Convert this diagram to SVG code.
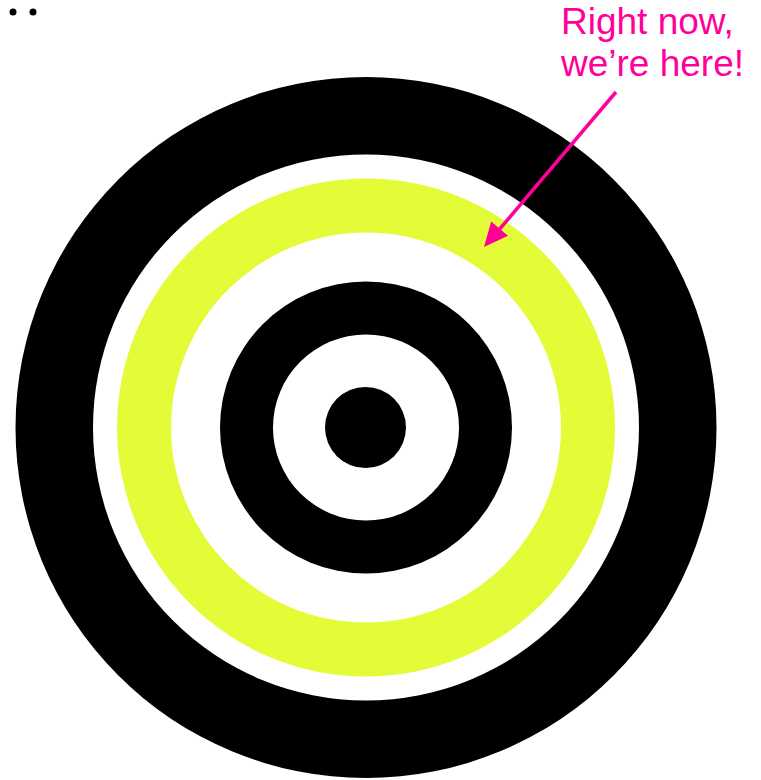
<svg xmlns="http://www.w3.org/2000/svg" width="761" height="780" viewBox="0 0 761 780">
<style>
.blk{fill:#000}.wht{fill:#fff}.yel{fill:#e4fb38}
.lbl{font-family:"Liberation Sans",Arial,sans-serif;font-size:37px;fill:#ff0099}
.arr{stroke:#ff0099;stroke-width:3.5;fill:none}
.head{fill:#ff0099}
</style>
<rect width="761" height="780" fill="#fff"/>
<g id="dots">
<circle cx="13" cy="12" r="3.5" class="blk"/>
<circle cx="33" cy="12" r="3.5" class="blk"/>
</g>
<g id="target">
<circle cx="366" cy="427.5" r="350.5" class="blk"/>
<circle cx="366" cy="427.5" r="273" class="wht"/>
<circle cx="366" cy="427.5" r="249" class="yel"/>
<circle cx="366" cy="427.5" r="195" class="wht"/>
<circle cx="366" cy="427.5" r="146" class="blk"/>
<circle cx="366" cy="427.5" r="93" class="wht"/>
<circle cx="365.5" cy="427.5" r="40.5" class="blk"/>
</g>
<g id="label">
<text class="lbl" x="561" y="33.5">Right now,</text>
<text class="lbl" x="561" y="75.5">we’re here!</text>
</g>
<g id="connectors">
<line class="arr" x1="616" y1="92" x2="498" y2="231"/>
<polygon class="head" points="484,247 508,235.8 491.2,221.6"/>
</g>
</svg>
